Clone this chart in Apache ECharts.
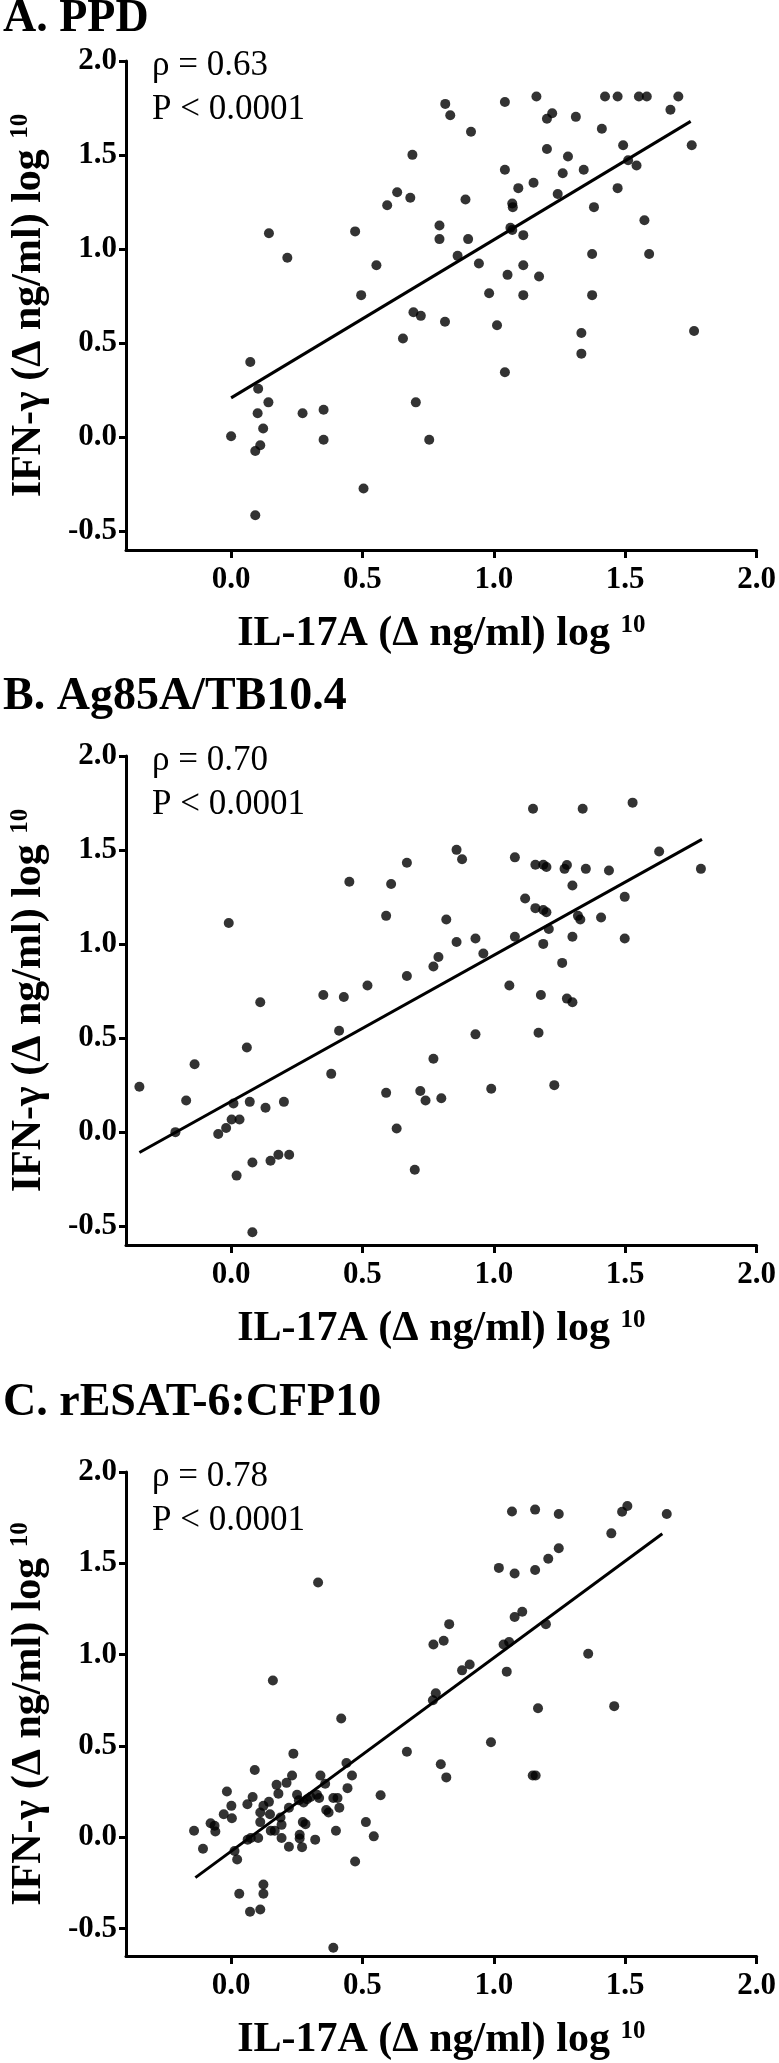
<!DOCTYPE html>
<html>
<head>
<meta charset="utf-8">
<script src="https://cdn.jsdelivr.net/npm/echarts@6/dist/echarts.min.js"></script>
<style>
html,body{margin:0;padding:0;background:#fff;}
#chart{width:779px;height:2063px;}
</style>
</head>
<body>
<div id="chart"></div>
<script>
// ---------- data ----------
var panelTitles = ['A. PPD', 'B. Ag85A/TB10.4', 'C. rESAT-6:CFP10'];
var rhoTexts = ['\u03c1 = 0.63', '\u03c1 = 0.70', '\u03c1 = 0.78'];
var pTexts = ['P < 0.0001', 'P < 0.0001', 'P < 0.0001'];
var xTicks = [0, 0.5, 1.0, 1.5, 2.0];
var yTicks = [-0.5, 0, 0.5, 1.0, 1.5, 2.0];
var xTitle = 'IL-17A (\u0394 ng/ml) log ';
var yTitle = 'IFN-\u03b3 (\u0394 ng/ml) log ';
var supText = '10';

var pointsA = [
[0.0,0.005],[0.073,0.40],[0.103,0.257],[0.144,1.084],[0.214,0.954],[0.101,0.127],[0.142,0.185],
[0.122,0.046],[0.111,-0.043],[0.092,-0.074],[0.092,-0.415],[0.272,0.127],[0.352,0.146],[0.352,-0.014],
[0.472,1.094],[0.495,0.755],[0.553,0.914],[0.504,-0.273],[0.594,1.233],[0.632,1.302],[0.682,1.273],
[0.690,1.501],[0.654,0.525],[0.694,0.664],[0.722,0.645],[0.703,0.185],[0.754,-0.014],[0.793,1.125],
[0.793,1.053],[0.815,1.772],[0.834,1.712],[0.814,0.614],[0.862,0.964],[0.892,1.264],[0.902,1.053],
[0.913,1.624],[0.943,0.923],[0.982,0.765],[1.012,0.595],[1.042,1.782],[1.042,1.422],[1.042,0.345],
[1.052,0.863],[1.063,1.113],[1.070,1.242],[1.072,1.223],[1.070,1.101],[1.093,1.324],[1.112,1.074],
[1.112,0.914],[1.112,0.755],[1.151,1.353],[1.162,1.811],[1.172,0.854],[1.202,1.693],[1.202,1.532],
[1.222,1.722],[1.243,1.293],[1.262,1.403],[1.282,1.492],[1.312,1.703],[1.342,1.422],[1.333,0.554],
[1.333,0.444],[1.374,0.974],[1.374,0.755],[1.381,1.223],[1.411,1.640],[1.423,1.811],[1.471,1.811],
[1.471,1.324],[1.492,1.552],[1.511,1.472],[1.543,1.444],[1.552,1.811],[1.582,1.811],[1.573,1.153],
[1.591,0.974],[1.672,1.741],[1.702,1.811],[1.753,1.552],[1.762,0.564]
];
var fitA = [[0.0, 0.209], [1.749, 1.679]];

var pointsB = [
[-0.349,0.241],[-0.212,0.0],[-0.171,0.168],[-0.139,0.361],[-0.009,1.112],[-0.049,-0.010],[-0.019,0.022],
[0.002,0.067],[0.009,0.152],[0.032,0.067],[0.021,-0.231],[0.060,0.450],[0.071,0.161],[0.081,-0.161],
[0.081,-0.532],[0.111,0.691],[0.131,0.130],[0.150,-0.152],[0.180,-0.120],[0.201,0.161],[0.221,-0.120],
[0.351,0.729],[0.381,0.310],[0.411,0.539],[0.429,0.719],[0.450,1.331],[0.519,0.780],[0.590,1.150],
[0.590,0.209],[0.609,1.319],[0.630,0.019],[0.669,0.830],[0.669,1.432],[0.699,-0.200],[0.720,0.219],
[0.740,0.168],[0.770,0.881],[0.770,0.390],[0.789,0.931],[0.800,0.180],[0.819,1.131],[0.858,1.501],
[0.858,1.011],[0.879,1.451],[0.930,1.030],[0.930,0.520],[0.960,0.950],[0.990,0.231],[1.059,0.780],
[1.080,1.461],[1.080,1.039],[1.119,1.242],[1.149,1.720],[1.158,1.422],[1.158,1.191],[1.170,0.529],
[1.179,0.729],[1.188,1.422],[1.188,1.181],[1.200,1.410],[1.200,1.169],[1.188,1.001],[1.209,1.080],
[1.230,0.250],[1.260,0.900],[1.269,1.400],[1.278,1.420],[1.278,0.710],[1.299,0.691],[1.299,1.311],
[1.299,1.039],[1.320,1.150],[1.329,1.131],[1.338,1.720],[1.350,1.400],[1.408,1.141],[1.438,1.391],
[1.498,1.251],[1.498,1.030],[1.528,1.752],[1.629,1.492],[1.788,1.400]
];
var fitB = [[-0.349, -0.108], [1.792, 1.557]];

var pointsC = [
[-0.141,0.036],[-0.107,-0.063],[-0.078,0.077],[-0.063,0.063],[-0.060,0.032],[-0.028,0.126],[-0.016,0.251],
[0.001,0.172],[0.003,0.104],[0.013,-0.075],[0.023,-0.122],[0.031,-0.309],[0.062,0.181],[0.082,0.221],
[0.072,-0.408],[0.111,-0.395],[0.123,-0.309],[0.123,-0.259],[0.063,-0.013],[0.075,-0.004],[0.103,-0.004],
[0.111,0.083],[0.111,0.136],[0.123,0.172],[0.144,0.194],[0.148,0.126],[0.173,0.287],[0.180,0.239],
[0.211,0.298],[0.151,0.036],[0.166,0.036],[0.192,-0.004],[0.192,0.068],[0.188,0.108],[0.220,-0.052],
[0.220,0.162],[0.251,0.233],[0.261,0.014],[0.261,-0.007],[0.270,-0.054],[0.273,0.083],[0.283,0.072],
[0.258,0.203],[0.276,0.190],[0.289,0.208],[0.302,0.221],[0.320,-0.013],[0.327,0.233],[0.335,0.215],
[0.358,0.293],[0.362,0.149],[0.371,0.136],[0.389,0.215],[0.399,0.036],[0.405,0.215],[0.412,0.162],
[0.443,0.269],[0.472,-0.133],[0.513,0.083],[0.543,0.005],[0.569,0.230],[0.389,-0.605],
[0.090,0.368],[0.237,0.458],[0.232,0.338],[0.159,0.858],[0.331,1.395],[0.340,0.338],[0.419,0.650],
[0.439,0.407],[0.460,0.338],[0.669,0.468],[0.768,0.750],[0.779,0.789],[0.770,1.056],[0.809,1.076],
[0.830,1.167],[0.798,0.400],[0.819,0.328],[0.879,0.914],[0.908,0.946],[0.989,0.520],[1.019,1.475],
[1.037,1.056],[1.058,1.069],[1.049,0.907],[1.069,1.784],[1.079,1.206],[1.079,1.444],[1.108,1.235],
[1.157,1.794],[1.157,1.463],[1.168,0.706],[1.148,0.338],[1.159,0.338],[1.198,1.167],[1.207,1.525],
[1.247,1.583],[1.247,1.770],[1.359,1.005],[1.447,1.664],[1.458,0.718],[1.488,1.782],[1.508,1.814],
[1.658,1.770]
];
var fitC = [[-0.136, -0.221], [1.641, 1.662]];

var yMins = [-0.6, -0.6, -0.65];
var allPoints = [pointsA, pointsB, pointsC];
var allFits = [fitA, fitB, fitC];

// ---------- layout ----------
var SERIF = "'Liberation Serif','Times New Roman',serif";
var grids = [
  {left:124, top:61,   width:637, height:489},
  {left:124, top:756,  width:637, height:489},
  {left:124, top:1472, width:637, height:484}
];
var titleY = [20, 698, 1404];

var chart = echarts.init(document.getElementById('chart'), null, {renderer:'canvas'});
var fmt = function(v){ return Number(v).toFixed(1); };
var nameRich = {
  m: {fontFamily:SERIF, fontWeight:'bold', fontSize:42, color:'#000'},
  s: {fontFamily:SERIF, fontWeight:'bold', fontSize:25, color:'#000', verticalAlign:'top', padding:[0,0,14,0]}
};

var xAxes = [], yAxes = [], series = [], graphics = [];
for (var i = 0; i < 3; i++) {
  xAxes.push({
    gridIndex:i, type:'value', min:-0.4, max:2.0,
    name:'{m|' + xTitle + '}{s|' + supText + '}', nameLocation:'middle', nameGap:63,
    nameTextStyle:{rich:nameRich},
    axisLine:{onZero:false, lineStyle:{color:'#000', width:3}},
    axisTick:{show:true, inside:false, length:8, customValues:xTicks, lineStyle:{color:'#000', width:3}},
    axisLabel:{customValues:xTicks, formatter:fmt, margin:14, fontFamily:SERIF, fontWeight:'bold', fontSize:31, color:'#000'},
    splitLine:{show:false}
  });
  yAxes.push({
    gridIndex:i, type:'value', min:yMins[i], max:2.0,
    name:'{m|' + yTitle + '}{s|' + supText + '}', nameLocation:'middle', nameGap:76, nameRotate:90,
    nameTextStyle:{rich:nameRich},
    axisLine:{onZero:false, lineStyle:{color:'#000', width:3}},
    axisTick:{show:true, inside:false, length:7, customValues:yTicks, lineStyle:{color:'#000', width:3}},
    axisLabel:{customValues:yTicks, formatter:fmt, margin:9, fontFamily:SERIF, fontWeight:'bold', fontSize:31, color:'#000'},
    splitLine:{show:false}
  });
  series.push({
    type:'scatter', xAxisIndex:i, yAxisIndex:i, data:allPoints[i],
    symbol:'circle', symbolSize:10, itemStyle:{color:'#000'}, silent:true, animation:false
  });
  series.push({
    type:'line', xAxisIndex:i, yAxisIndex:i, data:allFits[i],
    symbol:'none', lineStyle:{color:'#000', width:3}, silent:true, animation:false
  });
  graphics.push({
    type:'text', left:3, top:titleY[i] - 24,
    style:{text:panelTitles[i], fontFamily:SERIF, fontWeight:'bold', fontSize:46, fill:'#000'}
  });
  graphics.push({
    type:'text', left:152, top:grids[i].top + 5 - 18,
    style:{text:rhoTexts[i], fontFamily:SERIF, fontSize:35, fill:'#000'}
  });
  graphics.push({
    type:'text', left:152, top:grids[i].top + 49 - 18,
    style:{text:pTexts[i], fontFamily:SERIF, fontSize:35, fill:'#000'}
  });
}

chart.setOption({
  backgroundColor:'#fff',
  animation:false,
  grid:grids,
  xAxis:xAxes,
  yAxis:yAxes,
  series:series,
  graphic:graphics
});
</script>
</body>
</html>
